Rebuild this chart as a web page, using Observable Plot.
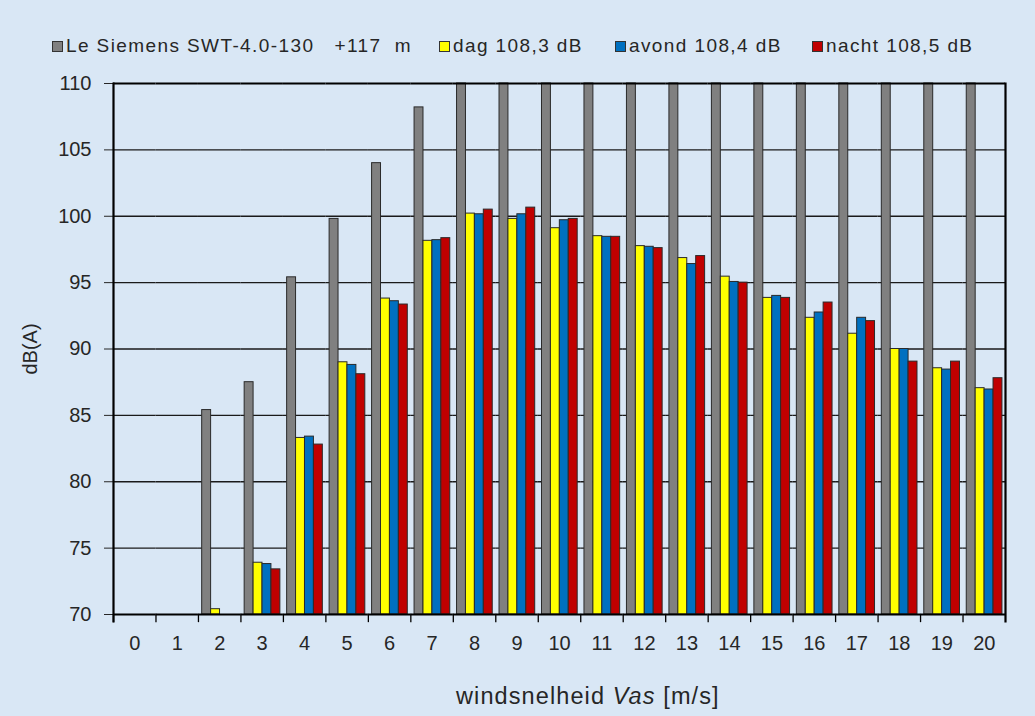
<!DOCTYPE html>
<html><head><meta charset="utf-8">
<script src="https://cdn.jsdelivr.net/npm/d3@7"></script>
<script src="https://cdn.jsdelivr.net/npm/@observablehq/plot@0.6"></script>
<style>
html,body{margin:0;padding:0;}
body{width:1035px;height:716px;overflow:hidden;background:#d9e7f5;font-family:"Liberation Sans",Arial,sans-serif;color:#262626;position:relative;}
#legend{position:relative;height:70px;}
.item{position:absolute;top:36px;white-space:pre;font-size:19px;letter-spacing:1.4px;line-height:20px;display:flex;align-items:center;}
.sw{width:9px;height:9px;border:1px solid #333;margin-right:3px;flex:none;}
#chart svg{display:block;}
#xtitle{position:absolute;left:456px;top:685px;font-size:23.5px;line-height:1;letter-spacing:1.1px;white-space:pre;}
</style></head><body>
<div id="legend"></div>
<div id="chart"></div>
<div id="xtitle">windsnelheid <i>Vas</i> [m/s]</div>
<script>
const windSpeeds = [0,1,2,3,4,5,6,7,8,9,10,11,12,13,14,15,16,17,18,19,20];
const seriesKeys = ["Le","dag","avond","nacht"];
const seriesLabels = ["Le Siemens SWT-4.0-130   +117  m", "dag 108,3 dB", "avond 108,4 dB", "nacht 108,5 dB"];
const seriesColors = ["#808080","#ffff00","#0070c0","#c00000"];
const leValues    = [70,70,85.4,87.5,95.4,99.8,104.0,108.2,110,110,110,110,110,110,110,110,110,110,110,110,110];
const dagValues   = [70,70,70.4,73.9,83.3,89.0,93.8,98.15,100.2,99.8,99.1,98.5,97.75,96.85,95.45,93.85,92.35,91.15,90.0,88.55,87.05];
const avondValues = [70,70,70,73.8,83.4,88.8,93.6,98.2,100.15,100.15,99.7,98.45,97.7,96.4,95.05,94.0,92.75,92.35,90.0,88.45,86.95];
const nachtValues = [70,70,70,73.4,82.8,88.1,93.35,98.35,100.5,100.65,99.8,98.45,97.6,97.0,95.0,93.85,93.5,92.1,89.05,89.05,87.8];
const yTicks = [70,75,80,85,90,95,100,105,110];
const gridTicks = [75,80,85,90,95,100,105];

const seriesValues = [leValues, dagValues, avondValues, nachtValues];
const rows = windSpeeds.flatMap((w, i) => seriesKeys.map((s, j) => ({wind: w, series: s, value: seriesValues[j][i]})));

// legend
const legendLeft = [52, 439, 615, 812];
const legend = document.getElementById("legend");
seriesKeys.forEach((k, j) => {
  const it = document.createElement("div");
  it.className = "item";
  it.style.left = legendLeft[j] + "px";
  const sw = document.createElement("span");
  sw.className = "sw";
  sw.style.background = seriesColors[j];
  it.appendChild(sw);
  it.appendChild(document.createTextNode(seriesLabels[j]));
  legend.appendChild(it);
});

const W = 1035, H = 600, mT = 13, mB = 56, mL = 113, mR = 30;
const innerH = H - mT - mB;

const chart = Plot.plot({
  width: W, height: H,
  marginTop: mT, marginBottom: mB, marginLeft: mL, marginRight: mR,
  style: {background: "transparent", fontFamily: "'Liberation Sans', Arial, sans-serif", fontSize: "20px", color: "#262626"},
  fx: {domain: windSpeeds, paddingInner: 0, paddingOuter: 0, round: false, axis: "bottom", label: null, tickSize: 0, tickPadding: 21},
  x: {domain: seriesKeys, paddingInner: 0, paddingOuter: 0.38, align: 0.55, round: false, axis: null},
  y: {domain: [70, 110], ticks: yTicks, tickSize: 9, tickPadding: 13, label: "dB(A)", labelAnchor: "center", labelOffset: 91, labelArrow: "none"},
  color: {domain: seriesKeys, range: seriesColors},
  marks: [
    Plot.ruleY(gridTicks, {stroke: "#1a1a1a", strokeWidth: 1.3}),
    Plot.barY(rows, {fx: "wind", x: "series", y1: 70, y2: "value", fill: "series", stroke: "#2a2a2a", strokeWidth: 1}),
    Plot.ruleY([70, 110], {stroke: "#000", strokeWidth: 2}),
    Plot.frame({anchor: "left", insetTop: innerH, insetBottom: -7, stroke: "#000", strokeWidth: 1.3}),
    Plot.frame({anchor: "left", facetAnchor: "left", insetBottom: -7, stroke: "#000", strokeWidth: 2.2}),
    Plot.frame({anchor: "right", facetAnchor: "right", insetBottom: -7, stroke: "#000", strokeWidth: 2.2})
  ]
});
document.getElementById("chart").appendChild(chart);
</script>
</body></html>
